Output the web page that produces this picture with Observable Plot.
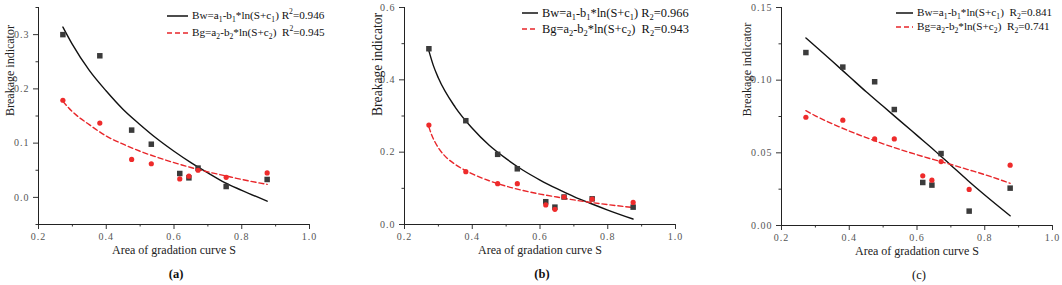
<!DOCTYPE html>
<html><head><meta charset="utf-8">
<script src="https://cdn.jsdelivr.net/npm/d3@7"></script>
<script src="https://cdn.jsdelivr.net/npm/@observablehq/plot@0.6"></script>
<style>
body{margin:0;background:#fff;font-family:"Liberation Serif",serif}
#row{display:flex;width:1062px;height:285px;overflow:hidden}
.panel{position:relative;flex:none}
.panel g[aria-label$="tick label"] text{letter-spacing:1px}
.lg{position:absolute;display:flex;align-items:center;white-space:nowrap;font-family:"Liberation Serif",serif;color:#111;line-height:1}
.lg sub,.lg sup{font-size:0.68em;line-height:0}
.lg svg{flex:none}
</style>
</head><body><div id="row"></div>
<script>
// ---- data ----
const S = [0.272, 0.381, 0.475, 0.533, 0.617, 0.644, 0.671, 0.754, 0.875];

const bwA = [0.300, 0.261, 0.124, 0.098, 0.044, 0.036, 0.054, 0.020, 0.033];
const bgA = [0.179, 0.137, 0.070, 0.062, 0.034, 0.039, 0.050, 0.037, 0.045];
const bwB = [0.486, 0.287, 0.194, 0.154, 0.063, 0.048, 0.076, 0.071, 0.048];
const bgB = [0.275, 0.146, 0.113, 0.113, 0.054, 0.042, 0.076, 0.070, 0.061];
const bwC = [0.119, 0.109, 0.0989, 0.0798, 0.0296, 0.0278, 0.0495, 0.0099, 0.0257];
const bgC = [0.0745, 0.0725, 0.0596, 0.0596, 0.0342, 0.0312, 0.0440, 0.0248, 0.0415];

// fitted curves
const fitSA = [0.272, 0.3, 0.35, 0.4, 0.45, 0.5, 0.55, 0.6, 0.65, 0.7, 0.75, 0.8, 0.875];
const fitBwA = [0.314, 0.282, 0.234, 0.196, 0.162, 0.134, 0.108, 0.085, 0.064, 0.045, 0.027, 0.013, -0.007];
const fitBgA = [0.177, 0.158, 0.134, 0.113, 0.098, 0.085, 0.074, 0.064, 0.055, 0.047, 0.040, 0.033, 0.024];

const fitSBw = [0.272, 0.285, 0.3, 0.35, 0.4, 0.45, 0.5, 0.55, 0.6, 0.65, 0.7, 0.75, 0.8, 0.875];
const fitBwB = [0.480, 0.440, 0.405, 0.324, 0.266, 0.219, 0.182, 0.150, 0.123, 0.099, 0.077, 0.058, 0.040, 0.015];
const fitSBg = [0.272, 0.28, 0.29, 0.3, 0.33, 0.35, 0.4, 0.45, 0.5, 0.55, 0.6, 0.65, 0.7, 0.75, 0.8, 0.875];
const fitBgB = [0.270, 0.248, 0.228, 0.212, 0.180, 0.166, 0.140, 0.121, 0.106, 0.094, 0.084, 0.076, 0.068, 0.061, 0.055, 0.047];

const fitSC = [0.272, 0.3, 0.35, 0.4, 0.45, 0.5, 0.55, 0.6, 0.65, 0.7, 0.75, 0.8, 0.875];
const fitBwC = [0.129, 0.1233, 0.113, 0.1025, 0.092, 0.082, 0.072, 0.062, 0.052, 0.0415, 0.031, 0.021, 0.0067];
const fitBgC = [0.079, 0.0755, 0.070, 0.065, 0.0605, 0.0562, 0.0523, 0.0487, 0.0453, 0.0420, 0.0385, 0.0350, 0.029];

// tick values
const xMajor = [0.2, 0.4, 0.6, 0.8, 1.0];
const xMinor = [0.3, 0.5, 0.7, 0.9];
const yMajorA = [0.0, 0.1, 0.2, 0.3];
const yMinorA = [-0.05, 0.05, 0.15, 0.25, 0.35];
const yMajorB = [0.0, 0.2, 0.4, 0.6];
const yMinorB = [0.1, 0.3, 0.5];
const yMajorC = [0.00, 0.05, 0.10, 0.15];
const yMinorC = [0.025, 0.075, 0.125];

// texts
const xTitle = "Area of gradation curve S";
const yTitle = "Breakage indicator";
const panelLabels = ["(a)", "(b)", "(c)"];
const legendA = ["Bw=a<sub>1</sub>-b<sub>1</sub>*ln(S+c<sub>1</sub>) R<sup>2</sup>=0.946",
                 "Bg=a<sub>2</sub>-b<sub>2</sub>*ln(S+c<sub>2</sub>)&nbsp; R<sup>2</sup>=0.945"];
const legendB = ["Bw=a<sub>1</sub>-b<sub>1</sub>*ln(S+c<sub>1</sub>) R<sub>2</sub>=0.966",
                 "Bg=a<sub>2</sub>-b<sub>2</sub>*ln(S+c<sub>2</sub>)&nbsp; R<sub>2</sub>=0.943"];
const legendC = ["Bw=a<sub>1</sub>-b<sub>1</sub>*ln(S+c<sub>1</sub>)&nbsp; R<sub>2</sub>=0.841",
                 "Bg=a<sub>2</sub>-b<sub>2</sub>*ln(S+c<sub>2</sub>)&nbsp; R<sub>2</sub>=0.741"];

// ---- styling / layout ----
const BLACK = "#111", RED = "#e8262a", SQ = "#3b3b3b", DOT = "#ee2b2b";
const panels = [
  {w: 354, ml: 38, mr: 45, mb: 61, yDomain: [-0.05, 0.35], yMajor: yMajorA, yMinor: yMinorA, fmt: d3.format(".1f"),
   bw: bwA, bg: bgA, fwS: fitSA, fw: fitBwA, fgS: fitSA, fg: fitBgA, ytDx: -28, ytSize: 12, bold: true,
   legend: legendA, lgX: 167, lgLen: 21, lgY: [16, 33], lgSize: 11.2},
  {w: 354, ml: 50, mr: 33, mb: 61, yDomain: [0, 0.6], yMajor: yMajorB, yMinor: yMinorB, fmt: d3.format(".1f"),
   bw: bwB, bg: bgB, fwS: fitSBw, fw: fitBwB, fgS: fitSBg, fg: fitBgB, ytDx: -27, ytSize: 13.6, bold: true,
   legend: legendB, lgX: 168, lgLen: 16, lgY: [13, 29], lgSize: 12.4},
  {w: 354, ml: 73, mr: 10, mb: 60, yDomain: [0, 0.15], yMajor: yMajorC, yMinor: yMinorC, fmt: d3.format(".2f"),
   bw: bwC, bg: bgC, fwS: fitSC, fw: fitBwC, fgS: fitSC, fg: fitBgC, ytDx: -34, ytSize: 12.4, bold: false,
   legend: legendC, lgX: 188, lgLen: 17, lgY: [13, 27], lgSize: 11.2}
];

const row = document.getElementById("row");
panels.forEach((p, k) => {
  const pts = S.map((s, i) => ({s, bw: p.bw[i], bg: p.bg[i]}));
  const lw = p.fwS.map((s, i) => ({s, v: p.fw[i]}));
  const lg = p.fgS.map((s, i) => ({s, v: p.fg[i]}));
  const chart = Plot.plot({
    width: p.w, height: 285,
    marginLeft: p.ml, marginRight: p.mr, marginTop: 7, marginBottom: p.mb,
    x: {domain: [0.2, 1.0]},
    y: {domain: p.yDomain},
    style: {fontFamily: "'Liberation Serif', serif", fontSize: "10px", color: "#555", background: "white", overflow: "visible"},
    marks: [
      Plot.axisX(xMajor, {tickSize: 5, tickPadding: 3, tickFormat: d3.format(".1f"), label: null, stroke: "#333"}),
      Plot.axisX(xMinor, {tickSize: 2.5, tickFormat: () => "", label: null, stroke: "#333"}),
      Plot.axisY(p.yMajor, {tickSize: 5, tickPadding: 4, tickFormat: p.fmt, label: null, stroke: "#333"}),
      Plot.axisY(p.yMinor, {tickSize: 2.5, tickFormat: () => "", label: null, stroke: "#333"}),
      Plot.ruleX([0.2], {stroke: "#222", strokeWidth: 1}),
      Plot.ruleY([p.yDomain[0]], {stroke: "#222", strokeWidth: 1}),
      Plot.line(lw, {x: "s", y: "v", stroke: BLACK, strokeWidth: 1.4, curve: "monotone-x"}),
      Plot.line(lg, {x: "s", y: "v", stroke: RED, strokeWidth: 1.4, strokeDasharray: "5,3", curve: "monotone-x"}),
      Plot.dot(pts, {x: "s", y: "bw", symbol: "square", fill: SQ, r: 3.1}),
      Plot.dot(pts, {x: "s", y: "bg", fill: DOT, r: 2.6}),
      Plot.text([yTitle], {frameAnchor: "left", rotate: -90, dx: p.ytDx, fontSize: p.ytSize, fill: "#222"}),
      Plot.text([xTitle], {frameAnchor: "bottom", dy: 29, fontSize: 12, fill: "#222"}),
      Plot.text([panelLabels[k]], {frameAnchor: "bottom", dy: 53, dx: 2, fontSize: 12.5, fontWeight: p.bold ? "bold" : "normal", fill: "#111"})
    ]
  });
  const div = document.createElement("div");
  div.className = "panel";
  div.style.width = p.w + "px";
  div.style.height = "285px";
  div.appendChild(chart);
  p.legend.forEach((html, j) => {
    const r = document.createElement("div");
    r.className = "lg";
    r.style.left = p.lgX + "px";
    r.style.top = (p.lgY[j] - 8) + "px";
    r.style.height = "16px";
    r.style.fontSize = p.lgSize + "px";
    const col = j === 0 ? BLACK : RED;
    const dash = j === 0 ? "" : `stroke-dasharray="5,3"`;
    r.innerHTML = `<svg width="${p.lgLen + 4}" height="16"><line x1="0" x2="${p.lgLen}" y1="8" y2="8" stroke="${col}" stroke-width="1.5" ${dash}/></svg><span>${html}</span>`;
    div.appendChild(r);
  });
  row.appendChild(div);
});
</script></body></html>
